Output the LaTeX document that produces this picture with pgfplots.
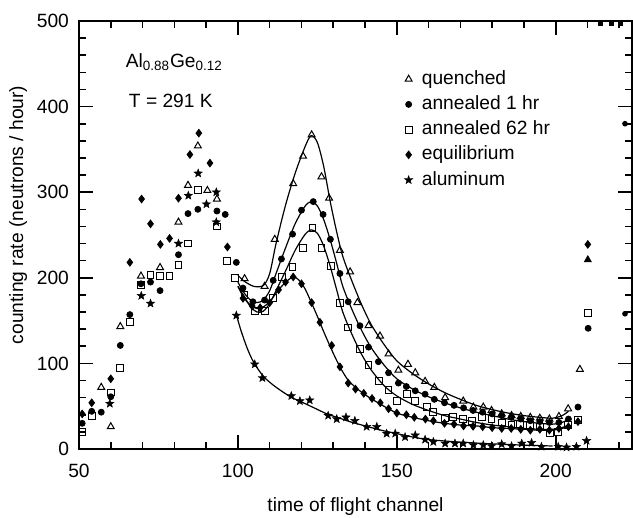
\documentclass[border=0pt]{standalone}
\usepackage{pgfplots}
\pgfplotsset{compat=1.18}
\usepackage{fontspec}
\setmainfont{Liberation Sans}

% filled five-pointed star
\pgfdeclareplotmark{fstar}{%
  \pgfpathmoveto{\pgfpointpolar{90}{\pgfplotmarksize}}%
  \pgfpathlineto{\pgfpointpolar{126}{0.42\pgfplotmarksize}}%
  \pgfpathlineto{\pgfpointpolar{162}{\pgfplotmarksize}}%
  \pgfpathlineto{\pgfpointpolar{198}{0.42\pgfplotmarksize}}%
  \pgfpathlineto{\pgfpointpolar{234}{\pgfplotmarksize}}%
  \pgfpathlineto{\pgfpointpolar{270}{0.42\pgfplotmarksize}}%
  \pgfpathlineto{\pgfpointpolar{306}{\pgfplotmarksize}}%
  \pgfpathlineto{\pgfpointpolar{342}{0.42\pgfplotmarksize}}%
  \pgfpathlineto{\pgfpointpolar{18}{\pgfplotmarksize}}%
  \pgfpathlineto{\pgfpointpolar{54}{0.42\pgfplotmarksize}}%
  \pgfpathclose\pgfusepathqfillstroke}

\newcommand{\lbl}{\fontsize{9.6}{11.5}\selectfont}

\begin{document}
\begin{tikzpicture}
\path[use as bounding box] (-39.5pt,-34.5pt) rectangle (277pt,224.5pt);
\begin{axis}[
  at={(0pt,0pt)}, anchor=south west,
  scale only axis,
  width=276.5pt, height=214pt,
  xmin=50, xmax=224, ymin=0, ymax=500,
  xtick={50,100,150,200},
  minor xtick={60,70,80,90,110,120,130,140,160,170,180,190,210,220},
  ytick={0,100,200,300,400,500},
  minor ytick={20,40,60,80,120,140,160,180,220,240,260,280,320,340,360,380,420,440,460,480},
  tick align=inside,
  major tick length=7pt, minor tick length=3.5pt,
  every tick/.style={black, line width=0.8pt},
  axis line style={line width=0.9pt},
  /pgf/number format/assume math mode=true,
  tick label style={font=\lbl},
  xticklabel style={yshift=-4pt},
  yticklabel style={xshift=-1.5pt},
  xlabel={time of flight channel},
  ylabel={counting rate (neutrons / hour)},
  xlabel style={font=\lbl, at={(axis description cs:0.5,-0.135)}, anchor=center},
  ylabel style={font=\lbl, at={(axis description cs:-0.11,0.547)}, anchor=center},
  legend cell align=left,
  legend style={draw=none, fill=none, font=\lbl,
    at={(0.577,0.9)}, anchor=north west,
    nodes={inner sep=1pt, text height=7pt, text depth=2pt},
    row sep=1.6pt,
    /tikz/every odd column/.append style={column sep=3.5pt}},
  legend image code/.code={\draw[mark repeat=2,mark phase=2] plot coordinates {(0pt,0pt) (2pt,0pt) (4pt,0pt)};},
]

% quenched
\addplot[only marks, mark=triangle, mark size=2pt, mark options={line width=0.5pt}] coordinates {
(57,72) (60,26) (63,143) (69.5,202) (75.5,212) (81.3,265) (84.3,308) (87.4,354) (90.4,302) (93.4,292)
(102.1,199) (108.4,190) (111.6,245) (117.4,310) (120.5,342) (123.2,367) (126.3,318) (128.7,293)
(132.1,232) (135.3,207) (137.6,171) (141.1,144) (144.7,132) (147.4,111) (150.5,92) (153.5,99)
(155.8,89) (158.9,79) (161.8,72) (165.2,60) (170.9,56) (174.1,49) (177.2,49) (179.8,45) (183,41)
(186.1,39) (189,38) (192,37) (195,36) (198,35) (201,38) (203.9,47) (207.6,93)
};
\addlegendentry{quenched}

% annealed 1 hr
\addplot[only marks, mark=*, mark size=1.5pt] coordinates {
(51,30) (54,44) (57,43) (60,61) (63,121) (66,157) (69.5,193) (72.5,195) (75.5,185) (81.3,227)
(84.3,275) (87.4,280) (93.4,278) (96,274) (99.5,218)
(101.6,188) (104.7,172) (108.4,174) (111.1,197) (113.7,222) (117.2,251) (120,279) (123.7,289)
(126.8,274) (129.1,245) (132.1,205) (134.7,172) (138.4,144) (141.1,119) (144.2,102) (147.4,89)
(150.5,77) (153,73) (155.8,68) (158.9,64) (161.8,58) (165,54) (168,51) (171,48) (174,45) (177,43)
(180,41) (183,39) (186,37) (189,35) (192,33) (195,32) (198,31) (201,31) (204,35) (207,49) (210.2,141)
};
\addlegendentry{annealed 1 hr}

% annealed 62 hr
\addplot[only marks, mark=square, mark size=1.7pt, mark options={line width=0.5pt}] coordinates {
(51,20) (54,39) (60,66) (63,95) (66,148) (69.5,192) (72.5,203) (75.5,202) (78.5,202) (81.3,215)
(84.3,240) (87.4,303) (93.4,260) (96.6,220) (99,200)
(102.1,180) (105.3,161) (108.4,161) (111.1,176) (113.9,201) (117.2,213) (120.5,235) (123.5,258)
(126.3,235) (129.2,214) (132.1,171) (134.7,142) (138.4,117) (141.1,98) (144.5,79) (147.4,69)
(150,56) (153.1,64) (155.8,56) (159.4,49) (161.5,43) (165.2,36) (167.8,37) (170.9,35) (173.6,33)
(176.7,37) (179.8,35) (183,31) (186.1,28) (188.7,29) (191.9,28) (195,26) (198.2,18) (200.8,20)
(203.9,28) (207,34) (210.2,159)
};
\addlegendentry{annealed 62 hr}

% equilibrium
\addplot[only marks, mark=diamond*, mark size=1.9pt] coordinates {
(51,41) (54,54) (60,82) (66,218) (69.7,292) (72.5,263) (75.6,239) (78.5,246) (81.3,293) (84.9,344)
(87.7,369) (91.2,334) (96.7,236)
(101.6,176) (104.5,167) (107,165) (110,171) (112.8,186) (115,195) (117.4,201) (120,193) (123.2,171)
(125.8,148) (129.5,121) (132.1,96) (134.7,77) (137,70) (139.6,65) (142.2,59) (144.8,54) (147.4,47)
(150,42) (153,40) (155.5,37) (159,35) (161.5,33) (165,30) (168,29) (171,27) (174,26.5) (177,26)
(180,25) (183,24) (186,24) (189,23) (192,22) (195,23) (198,22) (201,24) (204,26) (207,32) (210.1,239)
};
\addlegendentry{equilibrium}

% aluminum
\addplot[only marks, mark=fstar, mark size=2.2pt, mark options={line width=0.2pt}] coordinates {
(59.7,53) (69.6,179) (72.5,170) (81.3,240) (84.4,296) (87.5,322) (90.1,286) (93.2,300) (93.2,265)
(99.5,156) (105.3,99) (107.7,83) (116.8,62) (119.5,56) (122.6,57) (128.4,39) (131.1,35) (134,37)
(136.8,33) (140.5,26) (143.7,26) (146.8,18) (149.5,18) (152.6,14) (155.8,16) (158.9,11) (161.5,8.4)
(165.2,6.5) (168.3,6.5) (170.9,6.5) (174.1,4.6) (177.2,4.6) (179.8,3.4) (183,5.7) (186.1,3.4)
(189.3,6.5) (192.4,7.3) (195.5,2.7) (200.8,2.7) (203.4,1.9) (206.5,2.7) (209.7,9.6)
};
\addlegendentry{aluminum}

% stray points at the right edge
\addplot[forget plot, only marks, mark=triangle*, mark size=2pt] coordinates {(210.1,221)};
\addplot[forget plot, only marks, mark=square*, mark size=1pt] coordinates {
(214,497) (217.5,497) (220.5,497)};
\addplot[forget plot, only marks, mark=*, mark size=1.2pt] coordinates {(221.8,158) (221.8,380)};

% fitted curves
\addplot[forget plot, smooth, line width=0.6pt] coordinates {
(100,203) (102,196) (105,190) (108,191) (110,205) (112,240) (115,285) (118,322) (121,352) (123,366)
(125,358) (127,330) (129,290) (131,255) (133,225) (136,195) (139,168) (142,145) (146,122) (150,103)
(155,88) (160,76) (165,66) (170,58) (175,51) (180,46) (185,42) (190,39) (195,37) (199,36) (202,39) (204,44)
};
\addplot[forget plot, smooth, line width=0.6pt] coordinates {
(100,195) (102,182) (104,174) (106,171) (108,174) (110,185) (112,205) (115,235) (118,263) (121,283)
(123,289) (125,284) (127,268) (129,245) (131,218) (133,190) (136,162) (139,138) (142,118) (146,98)
(150,82) (155,70) (160,61) (165,54) (170,48) (175,43) (180,39) (185,35) (190,32) (195,30) (199,29) (202,31) (204,35)
};
\addplot[forget plot, smooth, line width=0.6pt] coordinates {
(100,190) (102,178) (104,166) (106,160) (108,161) (110,170) (112,185) (115,208) (118,232) (121,250)
(123,256) (125,252) (127,237) (129,214) (131,187) (133,160) (136,133) (139,110) (142,92) (146,74)
(150,62) (155,52) (160,45) (165,39) (170,35) (175,31) (180,28) (185,26) (190,24) (195,23) (199,23) (202,25) (204,28)
};
\addplot[forget plot, smooth, line width=0.6pt] coordinates {
(100,190) (102,176) (104,168) (106,164) (108,166) (110,172) (112,182) (114,191) (116,198) (117.5,201)
(119,198) (121,188) (123,172) (125,155) (127,137) (129,120) (131,104) (133,90) (135,79) (138,69)
(141,61) (145,52) (150,42) (155,37) (160,33) (165,30) (170,28) (175,27) (180,25) (185,24) (190,23)
(195,22) (199,22) (202,24) (204,27)
};
\addplot[forget plot, smooth, line width=0.6pt] coordinates {
(99.5,157) (101,138) (103,117) (105,101) (108,85) (111,75) (114,67) (117,60) (120,55) (124,48)
(128,41) (132,36) (136,31) (140,27) (145,22) (150,18) (155,14) (160,11) (170,8) (180,6) (190,4.5) (199,3.5)
};

\node[font=\lbl, anchor=west] at (axis cs:62.5,452) {Al\textsubscript{0.88}Ge\textsubscript{0.12}};
\node[font=\lbl, anchor=west] at (axis cs:63.5,407) {T = 291 K};
\end{axis}
\end{tikzpicture}
\end{document}
